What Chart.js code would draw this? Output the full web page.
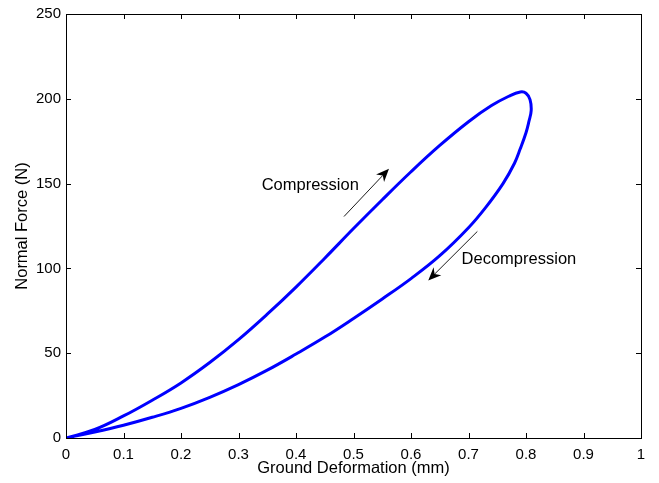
<!DOCTYPE html>
<html>
<head>
<meta charset="utf-8">
<script src="https://cdn.jsdelivr.net/npm/chart.js@4/dist/chart.umd.min.js"></script>
<style>
  html, body { margin: 0; padding: 0; background: #fff; }
  #wrap { width: 659px; height: 483px; }
</style>
</head>
<body>
<div id="wrap"><canvas id="c" width="659" height="483"></canvas></div>
<script>
// ---- data ----
const compressionX = [0, 0.05, 0.1, 0.15, 0.2, 0.25, 0.3, 0.35, 0.4, 0.45, 0.5, 0.55, 0.6, 0.65, 0.7, 0.74, 0.77, 0.79];
const compressionY = [0, 5, 13, 22.3, 32.5, 44.5, 58, 73, 89, 106, 123.5, 140.5, 157, 172.5, 186.5, 196, 201.5, 204];
const turnX = [0.80, 0.807, 0.809, 0.805];
const turnY = [203.3, 199.5, 193, 186.5];
const decompressionX = [0.80, 0.79, 0.78, 0.76, 0.73, 0.7, 0.65, 0.6, 0.55, 0.5, 0.45, 0.4, 0.35, 0.3, 0.25, 0.2, 0.15, 0.1, 0.05, 0];
const decompressionY = [180, 170.5, 162, 150, 136, 124, 107.5, 94, 82, 70.5, 59.5, 49.5, 40, 31.5, 24, 17.5, 12.2, 7.5, 3.5, 0];

const xTickValues = [0, 0.1, 0.2, 0.3, 0.4, 0.5, 0.6, 0.7, 0.8, 0.9, 1];
const xTickLabels = ['0', '0.1', '0.2', '0.3', '0.4', '0.5', '0.6', '0.7', '0.8', '0.9', '1'];
const yTickValues = [0, 50, 100, 150, 200, 250];
const yTickLabels = ['0', '50', '100', '150', '200', '250'];

const annotationTexts = ['Compression', 'Decompression'];
const annotationTextX = [0.3403, 0.688];
const annotationTextY = [149.1, 105.2];
const arrowTailX = [0.4835, 0.7154];
const arrowTailY = [130.6, 121.8];
const arrowHeadX = [0.5617, 0.630];
const arrowHeadY = [158.7, 92.9];

// ---- build loop ----
const loopPoints = [];
compressionX.forEach((x, i) => loopPoints.push({x: x, y: compressionY[i]}));
turnX.forEach((x, i) => loopPoints.push({x: x, y: turnY[i]}));
decompressionX.forEach((x, i) => loopPoints.push({x: x, y: decompressionY[i]}));

const FONT = '"Liberation Sans", Arial, Helvetica, sans-serif';
Chart.defaults.color = '#000';
Chart.defaults.font.family = FONT;

const boxPlugin = {
  id: 'boxAndAnnotations',
  afterDatasetsDraw(chart) {
    const {ctx, chartArea: a, scales} = chart;
    const xs = scales.x, ys = scales.y;
    ctx.save();
    ctx.strokeStyle = '#000';
    ctx.lineWidth = 1;
    ctx.strokeRect(Math.round(a.left) + 0.5, Math.round(a.top) + 0.5,
                   Math.round(a.right - a.left), Math.round(a.bottom - a.top));
    const tl = 5;
    ctx.beginPath();
    xTickValues.forEach(v => {
      const px = Math.round(xs.getPixelForValue(v)) + 0.5;
      ctx.moveTo(px, a.bottom); ctx.lineTo(px, a.bottom - tl);
      ctx.moveTo(px, a.top); ctx.lineTo(px, a.top + tl);
    });
    yTickValues.forEach(v => {
      const py = Math.round(ys.getPixelForValue(v)) + 0.5;
      ctx.moveTo(a.left, py); ctx.lineTo(a.left + tl, py);
      ctx.moveTo(a.right, py); ctx.lineTo(a.right - tl, py);
    });
    ctx.stroke();

    ctx.fillStyle = '#000';
    ctx.font = '16.5px ' + FONT;
    ctx.textAlign = 'left';
    ctx.textBaseline = 'middle';
    annotationTexts.forEach((t, i) => {
      ctx.fillText(t, xs.getPixelForValue(annotationTextX[i]), ys.getPixelForValue(annotationTextY[i]));
    });

    arrowTailX.forEach((tx, i) => {
      const x0 = xs.getPixelForValue(tx), y0 = ys.getPixelForValue(arrowTailY[i]);
      const x1 = xs.getPixelForValue(arrowHeadX[i]), y1 = ys.getPixelForValue(arrowHeadY[i]);
      const ang = Math.atan2(y1 - y0, x1 - x0);
      const L = 13, W = 5.5, back = 9;
      ctx.strokeStyle = '#000';
      ctx.lineWidth = 0.9;
      ctx.beginPath();
      ctx.moveTo(x0, y0);
      ctx.lineTo(x1 - Math.cos(ang) * back, y1 - Math.sin(ang) * back);
      ctx.stroke();
      ctx.beginPath();
      const bx = x1 - Math.cos(ang) * L, by = y1 - Math.sin(ang) * L;
      const mx = x1 - Math.cos(ang) * back, my = y1 - Math.sin(ang) * back;
      ctx.moveTo(x1, y1);
      ctx.lineTo(bx + Math.sin(ang) * W, by - Math.cos(ang) * W);
      ctx.lineTo(mx, my);
      ctx.lineTo(bx - Math.sin(ang) * W, by + Math.cos(ang) * W);
      ctx.closePath();
      ctx.fillStyle = '#000';
      ctx.fill();
    });
    ctx.restore();
  }
};

new Chart(document.getElementById('c'), {
  type: 'scatter',
  data: {
    datasets: [{
      data: loopPoints,
      showLine: true,
      borderColor: '#0000ff',
      backgroundColor: '#0000ff',
      borderWidth: 3,
      pointRadius: 0,
      tension: 0.4,
      fill: false
    }]
  },
  options: {
    responsive: false,
    animation: false,
    devicePixelRatio: 1,
    layout: { padding: { left: 0, right: 18, top: 11, bottom: 0 } },
    plugins: { legend: { display: false }, tooltip: { enabled: false } },
    scales: {
      x: {
        type: 'linear', min: 0, max: 1,
        afterBuildTicks: s => { s.ticks = xTickValues.map(v => ({value: v})); },
        afterFit: s => { s.height = 45; },
        grid: { display: false, drawTicks: false },
        border: { display: false },
        ticks: {
          padding: 8,
          maxRotation: 0,
          autoSkip: false,
          font: { size: 15, family: FONT },
          color: '#000',
          callback: (v, i) => xTickLabels[i]
        },
        title: {
          display: true,
          text: 'Ground Deformation (mm)',
          font: { size: 16.5, family: FONT },
          color: '#000',
          padding: { top: 0, bottom: 5 }
        }
      },
      y: {
        type: 'linear', min: 0, max: 250,
        afterBuildTicks: s => { s.ticks = yTickValues.map(v => ({value: v})); },
        afterFit: s => { s.width = 66; },
        grid: { display: false, drawTicks: false },
        border: { display: false },
        ticks: {
          padding: 5,
          autoSkip: false,
          font: { size: 15, family: FONT },
          color: '#000',
          callback: (v, i) => yTickLabels[i]
        },
        title: {
          display: true,
          text: 'Normal Force (N)',
          font: { size: 16.5, family: FONT },
          color: '#000',
          padding: { top: 13, bottom: 0 }
        }
      }
    }
  },
  plugins: [boxPlugin]
});
</script>
</body>
</html>
